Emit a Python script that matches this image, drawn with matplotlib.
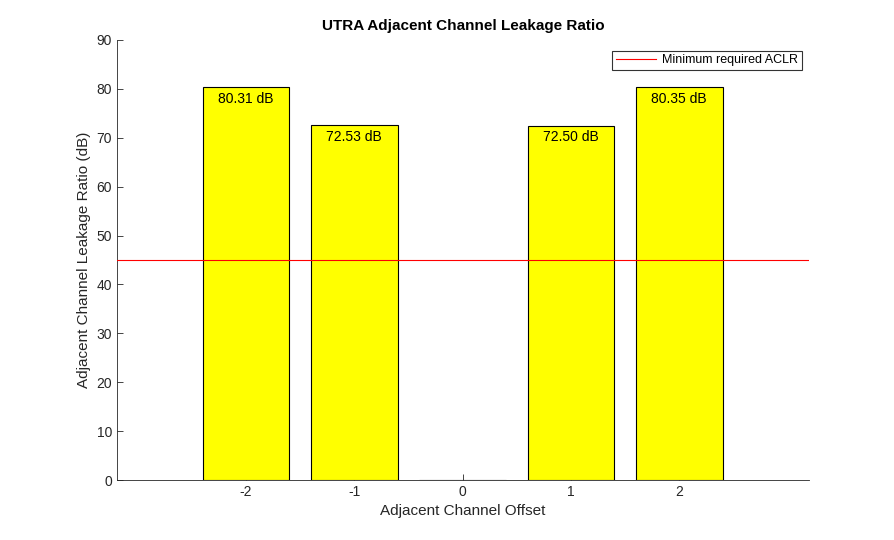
import numpy as np
import matplotlib
matplotlib.use("Agg")
import matplotlib.pyplot as plt

plt.rcParams['font.family'] = ['Liberation Sans', 'DejaVu Sans']
plt.rcParams['axes.unicode_minus'] = False

offsets = [-2, -1, 0, 1, 2]
aclr = [80.31, 72.53, 0.0, 72.50, 80.35]
min_aclr = 45
title = 'UTRA Adjacent Channel Leakage Ratio'

fig = plt.figure(figsize=(8.95, 5.4), dpi=100)
ax = fig.add_axes([0.1307, 0.1111, 0.7735, 0.8149])

ax.bar(offsets, aclr, width=0.8, color='#ffff00', edgecolor='black', linewidth=0.8, zorder=2)
ax.axhline(min_aclr, color='#ff0000', linewidth=0.8, label='Minimum required ACLR', zorder=3)

for x, v in zip(offsets, aclr):
    if v > 0:
        ax.text(x, v - 1.0, f'{v:.2f} dB', ha='center', va='top', fontsize=10, zorder=4)

ax.set_xlim(-3.19, 3.2)
ax.set_ylim(0, 90)
ax.set_xticks(offsets)
ax.set_yticks(np.arange(0, 91, 10))
ax.tick_params(direction='in', length=4, width=0.6, labelsize=10, colors='#262626')
for side in ['top', 'right']:
    ax.spines[side].set_visible(False)
for side in ['left', 'bottom']:
    ax.spines[side].set_linewidth(0.6)
    ax.spines[side].set_color('#262626')

ax.set_xlabel('Adjacent Channel Offset', fontsize=11, color='#262626')
ax.set_ylabel('Adjacent Channel Leakage Ratio (dB)', fontsize=11, color='#262626')
ax.set_title(title, fontsize=11, fontweight='bold', pad=7)

leg = ax.legend(loc='upper right', fontsize=9, frameon=True, fancybox=False,
                borderpad=0.3, handlelength=3.2, handletextpad=0.5,
                bbox_to_anchor=(0.998, 0.99))
leg.get_frame().set_edgecolor('black')
leg.get_frame().set_linewidth(0.8)

fig.savefig('out.png', dpi=100)
